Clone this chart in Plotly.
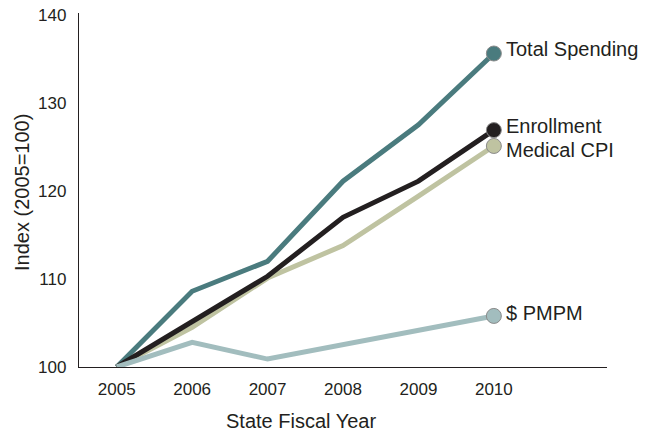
import plotly.graph_objects as go

years = [2005, 2006, 2007, 2008, 2009, 2010]
total_spending = [100, 108.6, 112.0, 121.1, 127.5, 135.6]
enrollment = [100, 105.2, 110.3, 117.0, 121.1, 126.9]
medical_cpi = [100, 104.5, 110.1, 113.8, 119.4, 125.1]
pmpm = [100, 102.8, 100.9, 102.5, 104.1, 105.8]
y_ticks = [100, 110, 120, 130, 140]

series = [
    ("Total Spending", total_spending, "#4a7b7e", -5),
    ("Medical CPI", medical_cpi, "#bfc3a1", 4),
    ("Enrollment", enrollment, "#231f20", -4),
    ("$ PMPM", pmpm, "#a2bdbe", -3),
]

text_color = "#231f20"
font_family = "Liberation Sans, Arial, sans-serif"

W, H = 646, 432
# plot area in window pixels
L, R, T, B = 79, 607, 13, 367

fig = go.Figure()

for name, vals, color, dy in series:
    fig.add_trace(go.Scatter(
        x=years, y=vals, mode="lines",
        line=dict(color=color, width=5),
        hoverinfo="skip", showlegend=False,
    ))
for name, vals, color, dy in series:
    fig.add_trace(go.Scatter(
        x=[years[-1]], y=[vals[-1]], mode="markers",
        marker=dict(color=color, size=15, line=dict(color="#8a8a8a", width=1)),
        hoverinfo="skip", showlegend=False,
    ))
    fig.add_annotation(
        x=years[-1], y=vals[-1], text=name, showarrow=False,
        xanchor="left", yanchor="middle", xshift=10, yshift=-dy,
        font=dict(size=20, color=text_color, family=font_family),
    )

fig.add_annotation(
    xref="paper", yref="paper",
    x=(301 - L) / (R - L), y=-(421 - B) / (B - T),
    xanchor="center", yanchor="middle",
    text="State Fiscal Year", showarrow=False,
    font=dict(size=20, color=text_color, family=font_family),
)
fig.add_annotation(
    xref="paper", yref="paper",
    x=(22 - L) / (R - L), y=(B - 193) / (B - T),
    xanchor="center", yanchor="middle", textangle=-90,
    text="Index (2005=100)", showarrow=False,
    font=dict(size=20, color=text_color, family=font_family),
)

fig.update_layout(
    template="none",
    width=W, height=H,
    margin=dict(l=L, r=W - R, t=T, b=H - B, pad=0),
    paper_bgcolor="white", plot_bgcolor="white",
    font=dict(family=font_family, color=text_color),
    hovermode=False,
    xaxis=dict(
        range=[2004.5, 2011.5], tickvals=years, ticktext=[str(y) for y in years],
        showline=True, linecolor="#231f20", linewidth=1.2,
        showgrid=False, zeroline=False, ticks="", automargin=False,
        tickfont=dict(size=17, color=text_color), ticklabelstandoff=6,
    ),
    yaxis=dict(
        range=[100, 140.2], tickvals=y_ticks,
        showline=True, linecolor="#231f20", linewidth=1.2,
        showgrid=False, zeroline=False, ticks="", automargin=False,
        tickfont=dict(size=17, color=text_color), ticklabelstandoff=8,
    ),
)

fig.write_html(
    "out.html",
    config={"displayModeBar": False, "staticPlot": True},
    post_script="document.body.style.margin='0';document.body.style.overflow='hidden';",
)
